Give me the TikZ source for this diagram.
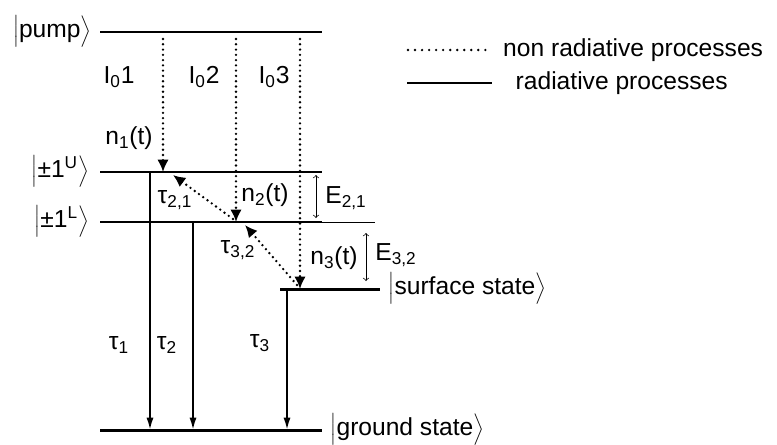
\documentclass[tikz,border=0pt]{standalone}
\usepackage{fontspec}
\setmainfont{Liberation Sans}
\usepackage{tikz}
\usetikzlibrary{positioning,arrows.meta}

\newcommand{\ketlab}[1]{$\left|\rule[-6pt]{0pt}{17pt}\mbox{#1}\right\rangle$}

\begin{document}
\begin{tikzpicture}[font=\fontsize{14}{16}\selectfont,
    level/.style={line width=1.7pt},
    nonrad/.style={line width=1.5pt, line cap=round, dash pattern=on 0pt off 3pt},
    rad/.style={line width=1.1pt},
    gap/.style={thin, <->, >=to},
    nrtip/.style={-{Latex[length=7pt,width=6.5pt]}},
    rtip/.style={-{Latex[length=7pt,width=4pt]}}]

\useasboundingbox (0,0) rectangle (15.54,8.88);

% Energy levels
\coordinate (pumpA) at (2,8.24);  \coordinate (pumpB) at (6.44,8.24);
\coordinate (upA) at (2,5.44);    \coordinate (upB) at (6.44,5.44);
\coordinate (lowA) at (2,4.44);   \coordinate (lowB) at (6.44,4.44);
\coordinate (lowC) at (7.5,4.44);
\coordinate (surfA) at (5.6,3.10); \coordinate (surfB) at (7.6,3.10);
\coordinate (gndA) at (2,0.28);   \coordinate (gndB) at (6.44,0.28);

\draw[level] (pumpA) -- (pumpB);
\draw[level] (upA) -- (upB);
\draw[level] (lowA) -- (lowB);
\draw[thin] (lowB) -- (lowC);
\draw[level] (surfA) -- (surfB);
\draw[level] (gndA) -- (gndB);

% Level labels
\node[left=0.05cm of pumpA] (pump) {\ketlab{pump}};
\node[left=0.1cm of upA] (upper) {\ketlab{±1\textsuperscript{U}}};
\node[left=0.1cm of lowA] (lower) {\ketlab{±1\textsuperscript{L}}};
\node[right=0.05cm of surfB] (surf) {\ketlab{surface state}};
\node[right=0.05cm of gndB] (gnd) {\ketlab{ground state}};

% Columns of the transitions
\coordinate (c1) at (3.26,0); \coordinate (c2) at (4.72,0); \coordinate (c3) at (6.0,0);
\coordinate (r1) at (3.0,0);  \coordinate (r2) at (3.86,0); \coordinate (r3) at (5.74,0);

% Pumping (non radiative)
\foreach \c/\lev in {c1/upA, c2/lowA, c3/surfA} {
    \draw[nonrad, nrtip, shorten <=4pt] (\c |- pumpA) -- (\c |- \lev);
}

% Relaxation between levels (non radiative)
\coordinate (t21a) at (4.66,4.50); \coordinate (t21b) at (3.46,5.38);
\coordinate (t32a) at (5.94,3.18); \coordinate (t32b) at (4.90,4.38);
\draw[nonrad, nrtip] (t21a) -- (t21b);
\draw[nonrad, nrtip] (t32a) -- (t32b);

% Radiative decay
\foreach \c/\lev in {r1/upA, r2/lowA, r3/surfA} {
    \draw[rad, rtip] (\c |- \lev) -- (\c |- gndA);
}

% Energy gaps
\coordinate (e21a) at (6.32,5.38); \coordinate (e21b) at (6.32,4.52);
\coordinate (e32a) at (7.32,4.22); \coordinate (e32b) at (7.32,3.26);
\draw[gap] (e21a) -- (e21b);
\draw[gap] (e32a) -- (e32b);

% Labels
\foreach \x/\i in {2.38/1, 4.08/2, 5.48/3} {
    \node (I\i) at (\x, 7.34) {I\textsubscript{0}\i};
}
\node (n1) at (2.58,6.12) {n\textsubscript{1}(t)};
\node (n2) at (5.30,4.98) {n\textsubscript{2}(t)};
\node (n3) at (6.68,3.72) {n\textsubscript{3}(t)};
\node (tau21) at (3.50,4.88) {τ\textsubscript{2,1}};
\node (tau32) at (4.76,3.88) {τ\textsubscript{3,2}};
\node (E21) at (6.92,4.92) {E\textsubscript{2,1}};
\node (E32) at (7.92,3.78) {E\textsubscript{3,2}};
\node (tau1) at (2.38,1.98) {τ\textsubscript{1}};
\node (tau2) at (3.34,1.98) {τ\textsubscript{2}};
\node (tau3) at (5.20,2.02) {τ\textsubscript{3}};

% Legend
\coordinate (legA) at (8.16,7.88); \coordinate (legB) at (9.84,7.88);
\coordinate (legC) at (8.14,7.22); \coordinate (legD) at (9.84,7.22);
\draw[nonrad, dash pattern=on 0pt off 4pt] (legA) -- (legB);
\draw[rad] (legC) -- (legD);
\node[right=0.1cm of legB] (legnon) {non radiative processes};
\node[right=0.35cm of legD] (legrad) {radiative processes};

\end{tikzpicture}
\end{document}
